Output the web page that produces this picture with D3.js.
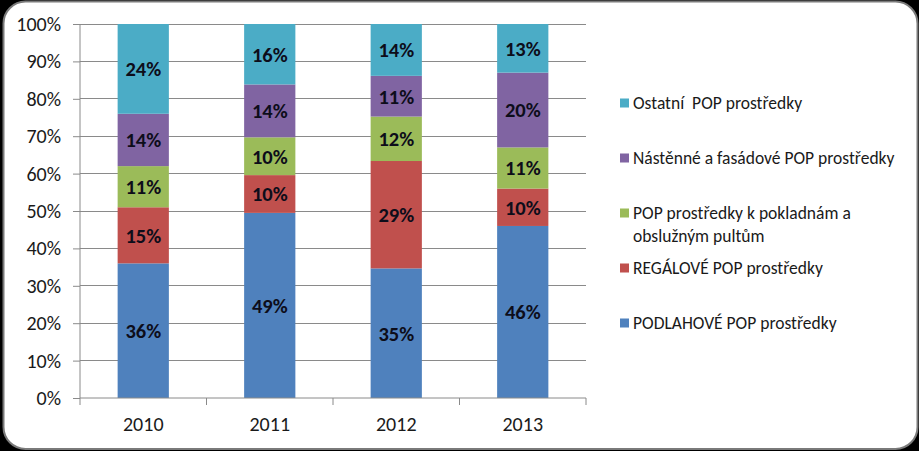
<!DOCTYPE html>
<html>
<head>
<meta charset="utf-8">
<script src="https://cdn.jsdelivr.net/npm/d3@7"></script>
<style>
html,body{margin:0;padding:0;background:#000;}
svg{display:block;}
text{font-family:Carlito, Lato, "Open Sans", sans-serif;}
</style>
</head>
<body>
<svg id="chart" width="919" height="451"></svg>
<script>
const years = ["2010", "2011", "2012", "2013"];
const seriesNames = [
  "PODLAHOVÉ POP prostředky",
  "REGÁLOVÉ POP prostředky",
  "POP prostředky k pokladnám a obslužným pultům",
  "Nástěnné a fasádové POP prostředky",
  "Ostatní  POP prostředky"
];
const legendLines = [
  ["PODLAHOVÉ POP prostředky"],
  ["REGÁLOVÉ POP prostředky"],
  ["POP prostředky k pokladnám a", "obslužným pultům"],
  ["Nástěnné a fasádové POP prostředky"],
  ["Ostatní  POP prostředky"]
];
const podlahove = [36, 49, 35, 46];
const regalove  = [15, 10, 29, 10];
const pokladny  = [11, 10, 12, 11];
const nastenne  = [14, 14, 11, 20];
const ostatni   = [24, 16, 14, 13];
const colors = ["#4F81BD", "#C0504D", "#9BBB59", "#8064A2", "#4BACC6"];
const yTicks = [0, 0.1, 0.2, 0.3, 0.4, 0.5, 0.6, 0.7, 0.8, 0.9, 1];

const seriesValues = [podlahove, regalove, pokladny, nastenne, ostatni];
const rows = years.map((y, i) => {
  const r = {year: y};
  seriesNames.forEach((s, k) => r[s] = seriesValues[k][i]);
  return r;
});

const svg = d3.select("#chart");
const W = 919, H = 451;

// frame
svg.append("rect").attr("x", 0).attr("y", 0).attr("width", W).attr("height", H).attr("fill", "#000");
svg.append("rect").attr("x", 3.5).attr("y", 1.5).attr("width", W - 5).attr("height", H - 3.5)
  .attr("rx", 22).attr("ry", 22).attr("fill", "#fff").attr("stroke", "#7a7a7a").attr("stroke-width", 2);

const plot = {left: 80, right: 586, top: 24, bottom: 398};
const x = d3.scaleBand().domain(years).range([plot.left, plot.right]).paddingInner(0.595).paddingOuter(0.2975);
const xOuter = d3.scaleBand().domain(years).range([plot.left, plot.right]).padding(0);
const y = d3.scaleLinear().domain([0, 1]).range([plot.bottom, plot.top]);

const stack = d3.stack().keys(seriesNames).offset(d3.stackOffsetExpand);
const stacked = stack(rows);

// gridlines
svg.append("g").selectAll("line").data(yTicks.filter(t => t > 0)).join("line")
  .attr("x1", plot.left).attr("x2", plot.right)
  .attr("y1", d => y(d)).attr("y2", d => y(d))
  .attr("stroke", "#8a8a8a").attr("stroke-width", 1).attr("shape-rendering", "crispEdges");

// bars
const layers = svg.append("g").selectAll("g").data(stacked).join("g")
  .attr("fill", (d, i) => colors[i]);
layers.selectAll("rect").data(d => d).join("rect")
  .attr("x", d => x(d.data.year))
  .attr("width", x.bandwidth())
  .attr("y", d => y(d[1]))
  .attr("height", d => y(d[0]) - y(d[1]));

// data labels
const labels = svg.append("g");
stacked.forEach((layer, k) => {
  labels.selectAll(null).data(layer).join("text")
    .attr("x", d => x(d.data.year) + x.bandwidth() / 2)
    .attr("y", d => (y(d[0]) + y(d[1])) / 2)
    .attr("dy", "0.36em")
    .attr("text-anchor", "middle")
    .attr("font-size", 20.5).attr("font-weight", "bold").attr("fill", "#0d0d1a")
    .text(d => d.data[layer.key] + "%");
});

// y axis
const yAxis = d3.axisLeft(y).tickValues(yTicks).tickFormat(d3.format(".0%")).tickSize(7).tickPadding(12);
const gy = svg.append("g").attr("transform", `translate(${plot.left},0)`).call(yAxis);
gy.select(".domain").attr("stroke", "#8a8a8a").attr("d", `M0,${plot.top}V${plot.bottom}`);
gy.selectAll(".tick line").attr("stroke", "#8a8a8a");
gy.selectAll(".tick text").attr("font-size", 20).attr("fill", "#1a1a1a")
  .style("font-family", "Carlito, Lato, sans-serif");

// x axis
const xAxis = d3.axisBottom(xOuter).tickSize(0).tickPadding(19);
const gx = svg.append("g").attr("transform", `translate(0,${plot.bottom})`).call(xAxis);
gx.select(".domain").attr("stroke", "#8a8a8a").attr("d", `M${plot.left},0H${plot.right}`);
gx.selectAll(".tick text").attr("font-size", 20).attr("fill", "#1a1a1a")
  .style("font-family", "Carlito, Lato, sans-serif");
// category boundary tick marks
const bounds = years.map(yr => xOuter(yr)).concat([plot.right]);
gx.append("g").selectAll("line").data(bounds).join("line")
  .attr("x1", d => d).attr("x2", d => d).attr("y1", 0).attr("y2", 7)
  .attr("stroke", "#8a8a8a");

// legend
const ly = d3.scalePoint().domain(seriesNames.slice().reverse()).range([103, 323]);
const leg = svg.append("g");
seriesNames.forEach((s, k) => {
  const cy = ly(s);
  leg.append("rect").attr("x", 620).attr("y", cy - 4.5).attr("width", 9).attr("height", 9).attr("fill", colors[k]);
  legendLines[k].forEach((line, j) => {
    leg.append("text").attr("x", 633).attr("y", cy + 5.5 + j * 23)
      .attr("font-size", 17.5).attr("fill", "#1a1a1a").attr("xml:space", "preserve")
      .style("white-space", "pre")
      .text(line);
  });
});
</script>
</body>
</html>
